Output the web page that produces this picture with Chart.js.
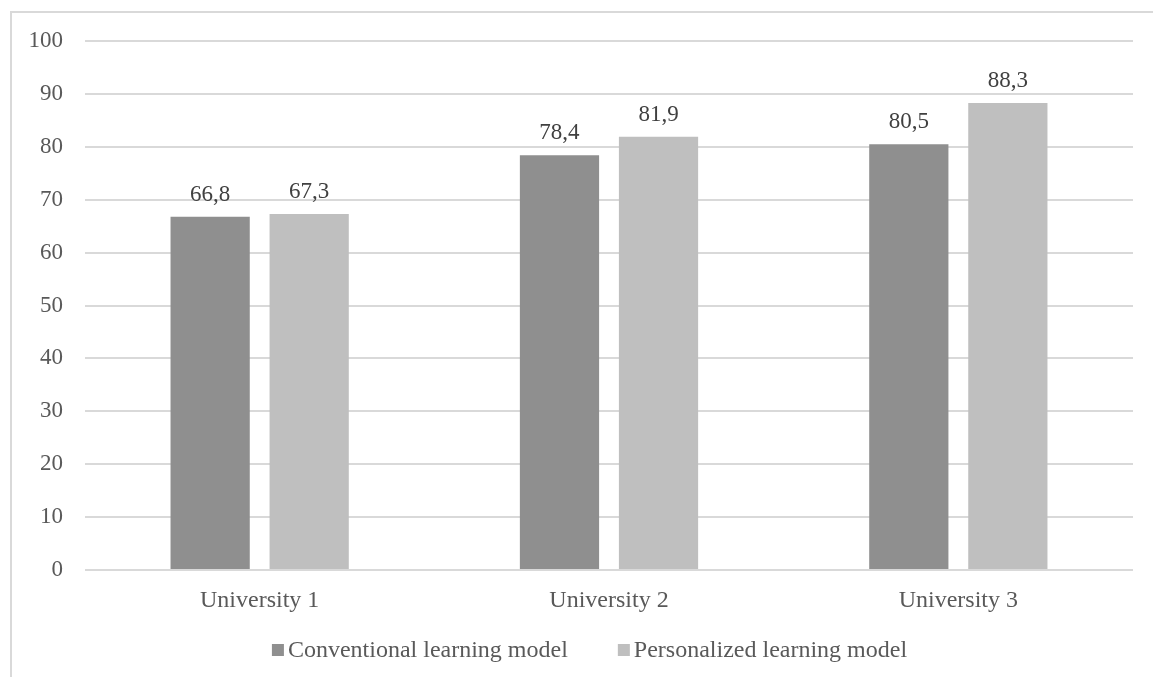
<!DOCTYPE html>
<html>
<head>
<meta charset="utf-8">
<script src="https://cdn.jsdelivr.net/npm/chart.js@4/dist/chart.umd.min.js"></script>
<style>
  html, body { margin: 0; padding: 0; background: #ffffff; overflow: hidden; }
  #frame { position: absolute; left: 10px; top: 11px; width: 1300px; height: 800px;
           border: 2px solid #d9d9d9; box-sizing: border-box; }
  #wrap { position: absolute; left: 0; top: 0; width: 1153px; height: 677px; }
</style>
</head>
<body>
<div id="frame"></div>
<div id="wrap"><canvas id="chart" width="1153" height="677"></canvas></div>
<script>
const categories = ['University 1', 'University 2', 'University 3'];
const conventional = [66.8, 78.4, 80.5];
const personalized = [67.3, 81.9, 88.3];
const seriesNames = ['Conventional learning model', 'Personalized learning model'];
const seriesColors = ['#8f8f8f', '#bfbfbf'];
const yTicks = [0, 10, 20, 30, 40, 50, 60, 70, 80, 90, 100];

const FONT = 'Liberation Serif';
const TEXT = '#595959';

// Writes each bar's value above it, with a decimal comma
const valueLabels = {
  id: 'valueLabels',
  afterDatasetsDraw(chart) {
    const ctx = chart.ctx;
    ctx.save();
    ctx.font = '23px "' + FONT + '"';
    ctx.fillStyle = '#404040';
    ctx.textAlign = 'center';
    ctx.textBaseline = 'alphabetic';
    chart.data.datasets.forEach((ds, i) => {
      chart.getDatasetMeta(i).data.forEach((bar, j) => {
        const txt = ds.data[j].toFixed(1).replace('.', ',');
        ctx.fillText(txt, bar.x, bar.y - 16);
      });
    });
    ctx.restore();
  }
};

// Legend row under the axis: small square swatch followed by the series name
const legendRow = {
  id: 'legendRow',
  afterDraw(chart) {
    const ctx = chart.ctx;
    const box = 12, boxGap = 4, itemGap = 50;
    const y = 650;
    ctx.save();
    ctx.font = '24px "' + FONT + '"';
    ctx.textBaseline = 'middle';
    ctx.textAlign = 'left';
    const items = chart.data.datasets.map(ds => ({
      text: ds.label, color: ds.backgroundColor, w: ctx.measureText(ds.label).width
    }));
    const total = items.reduce((s, it) => s + box + boxGap + it.w, 0) + itemGap * (items.length - 1);
    let x = chart.width / 2 + 13 - total / 2;
    items.forEach(it => {
      ctx.fillStyle = it.color;
      ctx.fillRect(x, y - box / 2, box, box);
      x += box + boxGap;
      ctx.fillStyle = TEXT;
      ctx.fillText(it.text, x, y + 1);
      x += it.w + itemGap;
    });
    ctx.restore();
  }
};

new Chart(document.getElementById('chart'), {
  type: 'bar',
  data: {
    labels: categories,
    datasets: [
      { label: seriesNames[0], data: conventional, backgroundColor: seriesColors[0],
        categoryPercentage: 0.567, barPercentage: 0.8 },
      { label: seriesNames[1], data: personalized, backgroundColor: seriesColors[1],
        categoryPercentage: 0.567, barPercentage: 0.8 }
    ]
  },
  options: {
    responsive: false,
    animation: false,
    layout: { padding: { left: 0, right: 20, top: 41, bottom: 47 } },
    plugins: {
      tooltip: { enabled: false },
      legend: { display: false }
    },
    scales: {
      x: {
        afterFit(scale) { scale.height = 60; },
        grid: { display: false, drawTicks: false },
        border: { display: false },
        ticks: { color: TEXT, font: { family: FONT, size: 24 }, padding: 16 }
      },
      y: {
        min: 0, max: 100,
        afterBuildTicks(scale) { scale.ticks = yTicks.map(v => ({ value: v })); },
        afterFit(scale) { scale.width = 85; },
        grid: { color: '#d9d9d9', lineWidth: 2, drawTicks: false },
        border: { display: false },
        ticks: { color: TEXT, font: { family: FONT, size: 23 }, padding: 22 }
      }
    }
  },
  plugins: [valueLabels, legendRow]
});
</script>
</body>
</html>
